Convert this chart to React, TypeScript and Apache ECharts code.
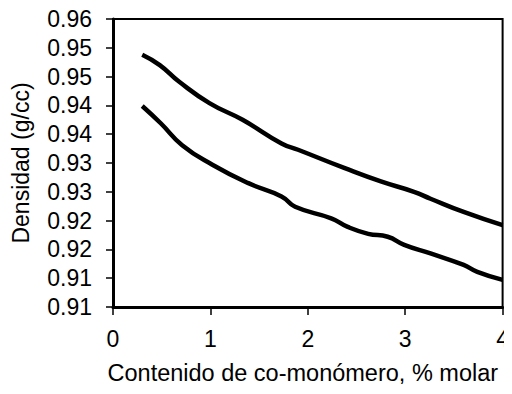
import React, { useEffect, useRef } from "react";
import * as echarts from "echarts";

const upperX = [0.3, 0.48, 0.68, 0.99, 1.33, 1.73, 1.9, 2.38, 2.75, 3.09, 3.26, 3.6, 4.0];
const upperY = [0.9538, 0.952, 0.9491, 0.9454, 0.9425, 0.9384, 0.9373, 0.9341, 0.9318, 0.93, 0.9288, 0.9265, 0.9242];
const lowerX = [0.3, 0.49, 0.71, 1.02, 1.39, 1.73, 1.87, 2.24, 2.41, 2.62, 2.82, 2.99, 3.26, 3.6, 3.74, 4.0];
const lowerY = [0.9449, 0.9419, 0.9381, 0.9347, 0.9315, 0.9292, 0.9274, 0.9254, 0.9239, 0.9227, 0.9222, 0.9208, 0.9193, 0.9173, 0.9161, 0.9147];
const yTickLabels = ["0.91", "0.91", "0.92", "0.92", "0.93", "0.93", "0.94", "0.94", "0.95", "0.95", "0.96"];
const xTitle = "Contenido de co-monómero, % molar";
const yTitle = "Densidad (g/cc)";

export default function App() {
  const ref = useRef<HTMLDivElement>(null);
  useEffect(() => {
    if (!ref.current) return;
    const chart = echarts.init(ref.current, null, { renderer: "svg" });
    const font = "Liberation Sans, Arial, sans-serif";
    chart.setOption({
      animation: false,
      backgroundColor: "#fff",
      grid: { left: 113, right: 6, top: 19, bottom: 87, show: true, borderColor: "#000", borderWidth: 2 },
      xAxis: {
        type: "value",
        min: 0,
        max: 4,
        interval: 1,
        name: xTitle,
        nameLocation: "middle",
        nameGap: 54,
        nameTextStyle: { fontFamily: font, fontSize: 23.5, color: "#000", padding: [0, 10, 0, 0] },
        axisLine: { show: true, lineStyle: { color: "#000", width: 3 } },
        axisTick: { show: true, inside: false, length: 8, lineStyle: { color: "#000", width: 1.5 } },
        axisLabel: { fontFamily: font, fontSize: 23, color: "#000", margin: 20 },
        splitLine: { show: false },
      },
      yAxis: {
        type: "value",
        min: 0.91,
        max: 0.96,
        interval: 0.005,
        name: yTitle,
        nameLocation: "middle",
        nameRotate: 90,
        nameGap: 81,
        nameTextStyle: { fontFamily: font, fontSize: 23, color: "#000" },
        axisLine: { show: true, lineStyle: { color: "#000", width: 3 } },
        axisTick: { show: true, inside: false, length: 7, lineStyle: { color: "#000", width: 1.5 } },
        axisLabel: {
          fontFamily: font,
          fontSize: 23,
          color: "#000",
          margin: 21,
          formatter: (v: number) => yTickLabels[Math.round((v - 0.91) / 0.005)] ?? "",
        },
        splitLine: { show: false },
      },
      series: [
        {
          type: "line",
          data: upperX.map((x, i) => [x, upperY[i]]),
          smooth: true,
          showSymbol: false,
          lineStyle: { color: "#000", width: 4.5 },
        },
        {
          type: "line",
          data: lowerX.map((x, i) => [x, lowerY[i]]),
          smooth: true,
          showSymbol: false,
          lineStyle: { color: "#000", width: 4.5 },
        },
      ],
    });
    return () => chart.dispose();
  }, []);
  return <div ref={ref} style={{ width: 512, height: 394, margin: -8 }} />;
}
